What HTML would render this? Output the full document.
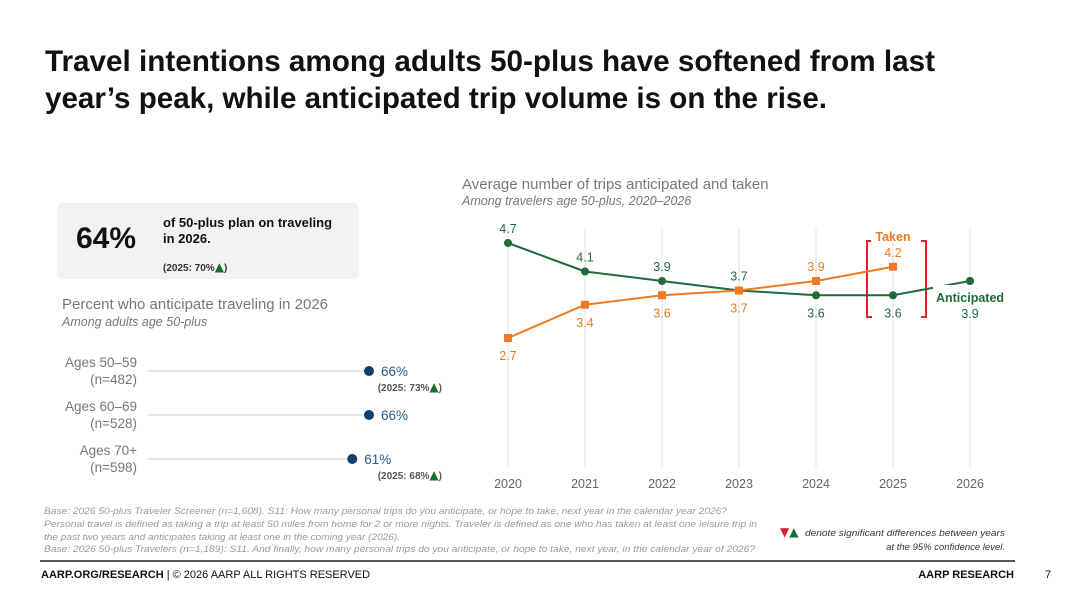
<!DOCTYPE html>
<html><head><meta charset="utf-8"><style>
html,body{margin:0;padding:0;background:#fff;}
svg{display:block;font-family:"Liberation Sans",Arial,sans-serif;}
.tri{font-family:"DejaVu Sans",sans-serif;font-size:12px;}
</style></head><body>
<svg width="1080" height="604" viewBox="0 0 1080 604">
<g font-weight="bold" font-size="30" fill="#111">
<text x="45" y="71" textLength="890" lengthAdjust="spacingAndGlyphs">Travel intentions among adults 50-plus have softened from last</text>
<text x="45" y="108" textLength="782" lengthAdjust="spacingAndGlyphs">year’s peak, while anticipated trip volume is on the rise.</text>
</g>
<g>
<rect x="57" y="203" width="302" height="76" rx="6" fill="#f2f2f2"/>
<text x="76" y="248" font-size="30" font-weight="bold" fill="#111">64%</text>
<text x="163" y="227" font-size="13" font-weight="bold" fill="#111">of 50-plus plan on traveling</text>
<text x="163" y="243" font-size="13" font-weight="bold" fill="#111">in 2026.</text>
<text x="163" y="271" font-size="10" font-weight="bold" fill="#333">(2025: 70%<tspan class="tri" fill="#1a6b35">▲</tspan>)</text>
</g>
<g>
<text x="62" y="309" font-size="15" fill="#777">Percent who anticipate traveling in 2026</text>
<text x="62" y="326" font-size="12.5" font-style="italic" fill="#777">Among adults age 50-plus</text>
</g>
<g id="dots"></g>
<g>
<text x="462" y="189" font-size="15" fill="#777">Average number of trips anticipated and taken</text>
<text x="462" y="205" font-size="12.5" font-style="italic" fill="#777">Among travelers age 50-plus, 2020–2026</text>
</g>
<g id="line"></g>
<g font-size="9" font-style="italic" fill="#999">
<text x="44" y="514" textLength="683" lengthAdjust="spacingAndGlyphs">Base: 2026 50-plus Traveler Screener (n=1,608). S11: How many personal trips do you anticipate, or hope to take, next year in the calendar year 2026?</text>
<text x="44" y="527" textLength="713" lengthAdjust="spacingAndGlyphs">Personal travel is defined as taking a trip at least 50 miles from home for 2 or more nights. Traveler is defined as one who has taken at least one leisure trip in</text>
<text x="44" y="540" textLength="356" lengthAdjust="spacingAndGlyphs">the past two years and anticipates taking at least one in the coming year (2026).</text>
<text x="44" y="552" textLength="711" lengthAdjust="spacingAndGlyphs">Base: 2026 50-plus Travelers (n=1,189): S11. And finally, how many personal trips do you anticipate, or hope to take, next year, in the calendar year of 2026?</text>
<text x="780" y="536" fill="#d0202a" font-style="normal" class="tri" font-size="13">▼<tspan fill="#1a6b35">▲</tspan></text>
<text x="1005" y="536" text-anchor="end" fill="#333" font-size="9.5" textLength="200" lengthAdjust="spacingAndGlyphs">denote significant differences between years</text>
<text x="1005" y="550" text-anchor="end" fill="#333" font-size="9.5">at the 95% confidence level.</text>
</g>
<line x1="40" y1="561" x2="1015" y2="561" stroke="#555" stroke-width="2"/>
<g font-size="11" fill="#111">
<text x="41" y="578"><tspan font-weight="bold">AARP.ORG/RESEARCH</tspan> | © 2026 AARP ALL RIGHTS RESERVED</text>
<text x="1014" y="578" text-anchor="end" font-weight="bold">AARP RESEARCH</text>
<text x="1045" y="578">7</text>
</g>
</svg>
<script>
const NS="http://www.w3.org/2000/svg";
function mk(p,t,a,txt){const e=document.createElementNS(NS,t);for(const k in a)e.setAttribute(k,a[k]);if(txt!=null)e.textContent=txt;p.appendChild(e);return e;}
// Dot chart data
const ageGroups=["Ages 50–59","Ages 60–69","Ages 70+"];
const ageNs=["(n=482)","(n=528)","(n=598)"];
const agePct=[66,66,61];
const agePrev=[73,null,68];
const dots=document.getElementById('dots');
const dx=p=>148+(p-0)*(369-148)/66;
ageGroups.forEach((g,i)=>{
  const y=371+i*44;
  let t=mk(dots,'text',{x:137,y:y-4,'font-size':13.5,fill:'#777','text-anchor':'end'},g);
  
  
  mk(dots,'text',{x:137,y:y+13,'font-size':13.5,fill:'#777','text-anchor':'end'},ageNs[i]);
  const l=mk(dots,'line',{x1:148,x2:dx(agePct[i]),y1:y,y2:y,stroke:'#ccc','stroke-width':1});
  
  
  const c=mk(dots,'circle',{cx:dx(agePct[i]),cy:y,r:5,fill:'#123e6e'});
  
  
  mk(dots,'text',{x:dx(agePct[i])+12,y:y+5,'font-size':13.5,fill:'#2a5a8c'},agePct[i]+'%');
  if(agePrev[i]!=null){
    const tt=mk(dots,'text',{x:442,y:y+20,'font-size':10,'font-weight':'bold',fill:'#555','text-anchor':'end'});
    tt.innerHTML='(2025: '+agePrev[i]+'%<tspan class="tri" fill="#1a6b35">▲</tspan>)';
  }
});
// Line chart data
const years=[2020,2021,2022,2023,2024,2025,2026];
const anticipated=[4.7,4.1,3.9,3.7,3.6,3.6,3.9];
const taken=[2.7,3.4,3.6,3.7,3.9,4.2,null];
const lc=document.getElementById('line');
const X=i=>508+i*77;
const Y=v=>243+(4.7-v)*47.5;
years.forEach((yr,i)=>{
  const g=mk(lc,'line',{x1:X(i),x2:X(i),y1:228,y2:468,stroke:'#e3e3e3','stroke-width':1});
  
  
  const t=mk(lc,'text',{x:X(i),y:488,'font-size':12.5,fill:'#666','text-anchor':'middle'},yr);
  
  
});
const br=mk(lc,'path',{d:'M872 241 H867 V317 H872 M921 241 H926 V317 H921',fill:'none',stroke:'#e0202a','stroke-width':2});


function series(vals,color,name,square){
  let d='';vals.forEach((v,i)=>{if(v!=null)d+=(d?'L':'M')+X(i)+' '+Y(v);});
  const p=mk(lc,'path',{d,fill:'none',stroke:color,'stroke-width':2});
  
  
  vals.forEach((v,i)=>{if(v==null)return;
    const m=square?mk(lc,'rect',{x:X(i)-4,y:Y(v)-4,width:8,height:8,fill:color}):mk(lc,'circle',{cx:X(i),cy:Y(v),r:4,fill:color});
    
    
  });
}
series(anticipated,'#1f6b3a','anticipated',false);
series(taken,'#f07a22','taken',true);
mk(lc,'rect',{x:933,y:285,width:74,height:36,fill:'#fff'});
mk(lc,'circle',{cx:X(6),cy:Y(anticipated[6]),r:4,fill:'#1f6b3a'});
const aboveA=[1,1,1,1,0,0,0], aboveT=[0,0,0,0,1,1,0];
anticipated.forEach((v,i)=>{
  const y=aboveA[i]?Y(v)-10:Y(v)+22;
  mk(lc,'text',{x:X(i),y:i==6?318:y,'font-size':12.5,fill:'#1f6b3a','text-anchor':'middle'},v.toFixed(1));
});
taken.forEach((v,i)=>{ if(v==null)return;
  const y=aboveT[i]?Y(v)-10:Y(v)+22;
  mk(lc,'text',{x:X(i),y,'font-size':12.5,fill:'#f07a22','text-anchor':'middle'},v.toFixed(1));
});
const la=mk(lc,'text',{x:970,y:302,'font-size':12.5,'font-weight':'bold',fill:'#1f6b3a','text-anchor':'middle'},'Anticipated');


mk(lc,'rect',{x:871,y:229,width:44,height:14,fill:'#fff'});
const lt=mk(lc,'text',{x:893,y:241,'font-size':12.5,'font-weight':'bold',fill:'#f07a22','text-anchor':'middle'},'Taken');


</script>
</body></html>
